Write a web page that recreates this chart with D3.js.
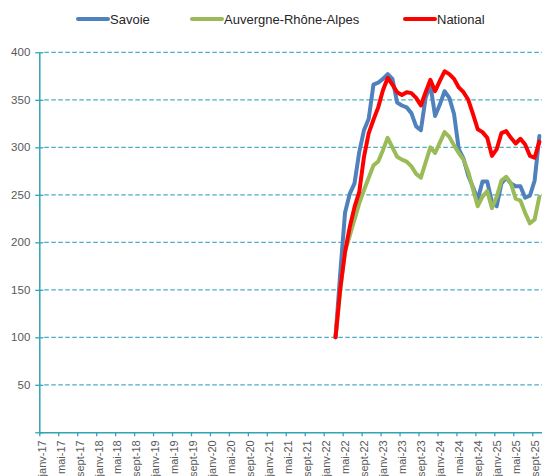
<!DOCTYPE html>
<html>
<head>
<meta charset="utf-8">
<script src="https://cdn.jsdelivr.net/npm/d3@7"></script>
<style>
  body { margin: 0; background: #fff; }
  svg { display: block; }
</style>
</head>
<body>
<script>
// month labels janv-17 .. oct-25 (one category per month)
var monthNames = ["janv", "févr", "mars", "avr", "mai", "juin", "juil", "août", "sept", "oct", "nov", "déc"];
var months = [];
for (var y = 17; y <= 25; y++) {
  for (var m = 0; m < 12; m++) {
    months.push(monthNames[m] + "-" + y);
  }
}
months = months.slice(0, 106); // janv-17 .. oct-25

// series start at mars-22 (index 62)
var startIndex = 62;

var savoie = [100, 168, 231, 251, 262, 295, 318, 330, 366, 368, 372, 377, 372, 347,
  344, 342, 336, 322, 318, 352, 366, 333, 345, 359, 352, 335, 298, 288, 270, 258,
  245, 264, 264, 242, 238, 262, 268, 262, 259, 259, 247, 249, 265, 312];

var aura = [100, 150, 190, 207, 224, 241, 255, 268, 281, 285, 297, 310, 300, 290,
  287, 285, 280, 272, 268, 284, 300, 294, 305, 316, 311, 302, 294, 287, 274, 256,
  238, 248, 254, 236, 248, 265, 269, 262, 246, 244, 231, 220, 224, 248];

var national = [100, 152, 190, 216, 237, 253, 290, 315, 329, 342, 360, 373, 366, 358,
  355, 358, 357, 352, 344, 358, 371, 359, 370, 380, 377, 372, 363, 358, 350, 335,
  319, 316, 310, 291, 298, 315, 317, 310, 304, 309, 303, 291, 289, 306];

var yTicks = [0, 50, 100, 150, 200, 250, 300, 350, 400];

var width = 542, height = 476;
var x0 = 39.3, step = 4.74;
var yTop = 52.3, yBottom = 432.3;

var svg = d3.select("body").append("svg")
  .attr("width", width)
  .attr("height", height);

var x = d3.scaleLinear()
  .domain([0, months.length])
  .range([x0, x0 + months.length * step]);

var yScale = d3.scaleLinear()
  .domain([0, 400])
  .range([yBottom, yTop]);

var axisColor = "#31A3B6";
var gridColor = "#4BACC6";
var textColor = "#595959";

// gridlines
svg.selectAll("line.grid")
  .data(yTicks.filter(function(d) { return d > 0; }))
  .enter().append("line")
  .attr("class", "grid")
  .attr("x1", x0 + 5)
  .attr("x2", width)
  .attr("y1", function(d) { return yScale(d); })
  .attr("y2", function(d) { return yScale(d); })
  .style("stroke", gridColor)
  .style("stroke-width", 1.3)
  .style("stroke-dasharray", "4.5,2.5");

// y axis
var yAxis = d3.axisLeft(yScale)
  .tickValues(yTicks)
  .tickSizeInner(4)
  .tickSizeOuter(0)
  .tickFormat(function(d) { return d === 0 ? "" : d; });

var gy = svg.append("g")
  .attr("transform", "translate(" + x0 + ",0)")
  .call(yAxis);
gy.select(".domain").attr("stroke", axisColor).attr("stroke-width", 1.5);
gy.selectAll(".tick line").attr("stroke", axisColor).attr("stroke-width", 1.3)
  .attr("x1", 4);
gy.selectAll(".tick text")
  .attr("x", -9)
  .style("fill", textColor)
  .style("font-family", "'Liberation Sans', Arial, sans-serif")
  .style("font-size", "11.5px");

// x axis, labels every 4 months
var tickIdx = d3.range(0, months.length, 4);
var xAxis = d3.axisBottom(x)
  .tickValues(tickIdx)
  .tickSizeInner(4)
  .tickSizeOuter(0)
  .tickFormat(function(i) { return months[i]; });

var gx = svg.append("g")
  .attr("transform", "translate(0," + yBottom + ")")
  .call(xAxis);
gx.select(".domain").attr("stroke", axisColor).attr("stroke-width", 1.5);
gx.selectAll(".tick line").attr("stroke", axisColor).attr("stroke-width", 1.3);
gx.selectAll(".tick text")
  .attr("transform", "rotate(-90)")
  .attr("text-anchor", "end")
  .attr("x", -8)
  .attr("y", 2)
  .attr("dy", "0.35em")
  .style("fill", textColor)
  .style("font-family", "'Liberation Sans', Arial, sans-serif")
  .style("font-size", "11px");

// series lines
var series = [
  {name: "Savoie", values: savoie, color: "#4F81BD"},
  {name: "Auvergne-Rhône-Alpes", values: aura, color: "#9BBB59"},
  {name: "National", values: national, color: "#FF0000"}
];

var line = d3.line()
  .x(function(d, i) { return x(startIndex + i + 0.5); })
  .y(function(d) { return yScale(d); });

svg.selectAll("path.series")
  .data(series)
  .enter().append("path")
  .attr("class", "series")
  .attr("d", function(d) { return line(d.values); })
  .style("fill", "none")
  .style("stroke", function(d) { return d.color; })
  .style("stroke-width", 4)
  .style("stroke-linejoin", "round")
  .style("stroke-linecap", "round");

// legend
var legendX = [78, 192, 405];
var legend = svg.selectAll("g.legend")
  .data(series)
  .enter().append("g")
  .attr("class", "legend")
  .attr("transform", function(d, i) { return "translate(" + legendX[i] + ",19)"; });

legend.append("line")
  .attr("x1", 0).attr("x2", 30)
  .attr("y1", 0).attr("y2", 0)
  .style("stroke", function(d) { return d.color; })
  .style("stroke-width", 4)
  .style("stroke-linecap", "round");

legend.append("text")
  .attr("x", 32)
  .attr("dy", "0.35em")
  .text(function(d) { return d.name; })
  .style("fill", "#262626")
  .style("font-family", "'Liberation Sans', Arial, sans-serif")
  .style("font-size", "13px");
</script>
</body>
</html>
